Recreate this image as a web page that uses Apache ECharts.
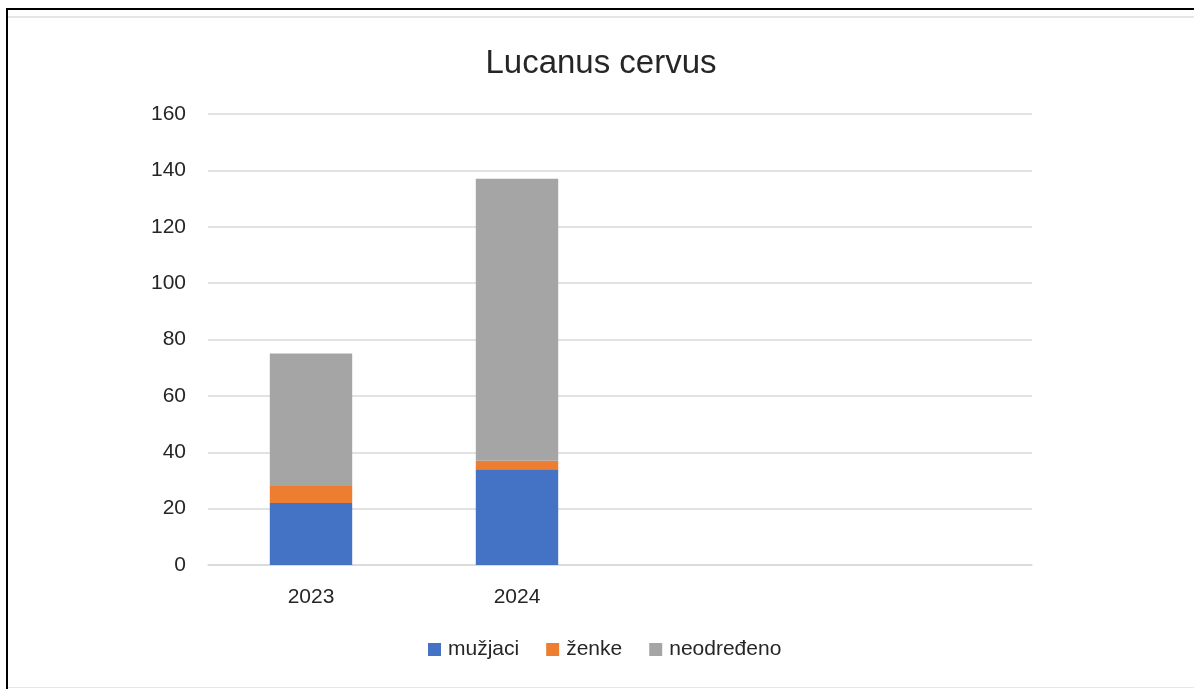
<!DOCTYPE html>
<html>
<head>
<meta charset="utf-8">
<script src="https://cdn.jsdelivr.net/npm/echarts@6/dist/echarts.min.js"></script>
<style>
html,body{margin:0;padding:0;background:#fff;}
#c{width:1194px;height:689px;}
</style>
</head>
<body>
<div id="c"></div>
<script>
const titleText = 'Lucanus cervus';
const categories = ['2023', '2024', '', ' '];
const seriesNames = ['mužjaci', 'ženke', 'neodređeno'];
const muzjaci = [22, 34, null, null];
const zenke = [6, 3, null, null];
const neodredjeno = [47, 100, null, null];
const yTicks = { min: 0, max: 160, interval: 20 };

const colors = ['#4472C4', '#ED7D31', '#A5A5A5'];
const font = 'Liberation Sans';
const chart = echarts.init(document.getElementById('c'), null, { renderer: 'canvas' });
const valuesList = [muzjaci, zenke, neodredjeno];

chart.setOption({
  backgroundColor: '#fff',
  animation: false,
  title: {
    text: titleText,
    left: 596, top: 42,
    textAlign: 'center',
    textStyle: { fontFamily: font, fontSize: 33, fontWeight: 'normal', color: '#262626' }
  },
  legend: {
    data: seriesNames,
    bottom: 24,
    left: 423,
    itemWidth: 13, itemHeight: 13, itemGap: 27,
    icon: 'rect',
    textStyle: { fontFamily: font, fontSize: 21, color: '#262626', padding: [0, 0, 0, 2] }
  },
  grid: { left: 208, right: 162, top: 114, bottom: 124, containLabel: false },
  xAxis: {
    type: 'category',
    data: categories,
    axisLine: { lineStyle: { color: '#d9d9d9', width: 1.5 } },
    axisTick: { show: false },
    axisLabel: { fontFamily: font, fontSize: 21, color: '#262626', margin: 22 }
  },
  yAxis: {
    type: 'value',
    min: yTicks.min, max: yTicks.max, interval: yTicks.interval,
    axisLine: { show: false },
    axisTick: { show: false },
    splitLine: { lineStyle: { color: '#d9d9d9', width: 1.5 } },
    axisLabel: { fontFamily: font, fontSize: 21, color: '#262626', margin: 22 }
  },
  series: seriesNames.map((n, i) => ({
    name: n,
    type: 'bar',
    stack: 'total',
    data: valuesList[i],
    barCategoryGap: '60%',
    itemStyle: { color: colors[i] }
  })),
  graphic: [
    { type: 'rect', shape: { x: 6, y: 8, width: 1188, height: 2 }, style: { fill: '#000' } },
    { type: 'rect', shape: { x: 6, y: 8, width: 2, height: 681 }, style: { fill: '#000' } },
    { type: 'rect', shape: { x: 8, y: 16, width: 1186, height: 2 }, style: { fill: '#e6e6e6' } },
    { type: 'rect', shape: { x: 8, y: 687, width: 1186, height: 1 }, style: { fill: '#e6e6e6' } }
  ]
});
</script>
</body>
</html>
